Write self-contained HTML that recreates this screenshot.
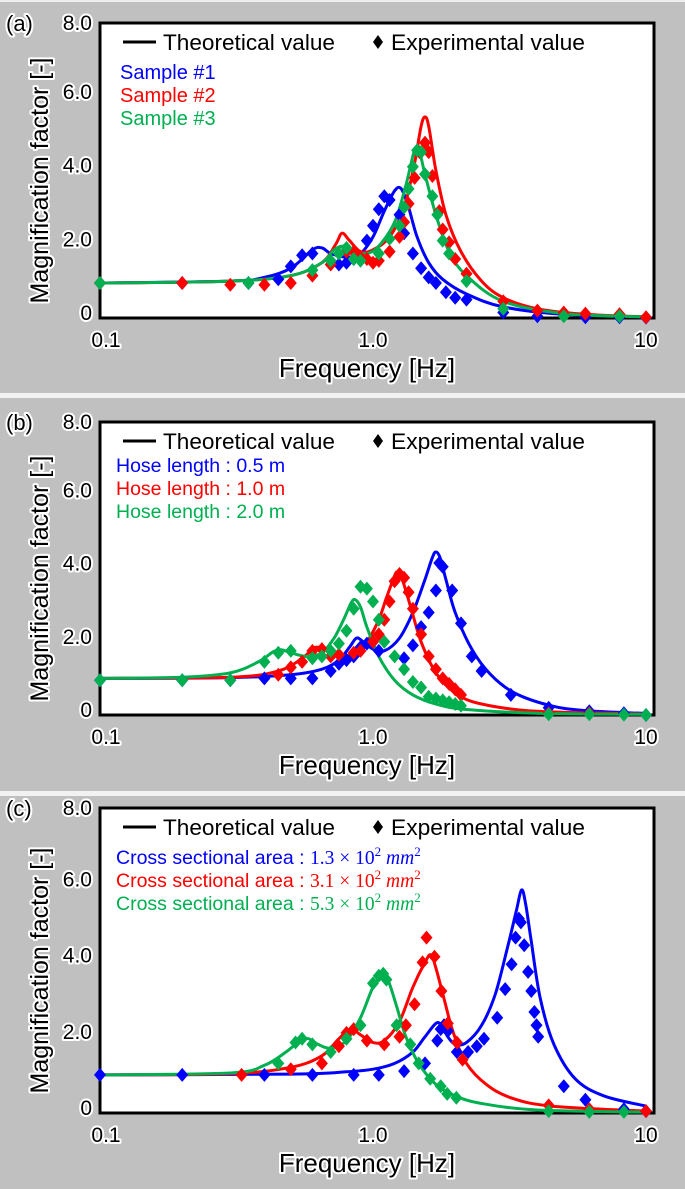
<!DOCTYPE html>
<html><head><meta charset="utf-8">
<style>
body{margin:0;width:685px;height:1189px;background:#c0c0c0;overflow:hidden;font-family:"Liberation Sans",sans-serif}
svg{display:block}
text{font-family:"Liberation Sans",sans-serif}
.halo{paint-order:stroke;stroke:#fff;stroke-width:4px;stroke-linejoin:round}
</style></head>
<body>
<svg id="fig" width="685" height="1189">
<rect x="0" y="0" width="685" height="2" fill="#eee"/>
<rect x="0" y="393" width="685" height="5" fill="#f2f2f2"/>
<rect x="0" y="791" width="685" height="5" fill="#f2f2f2"/>
</svg>
<script>
// ---- Panel (a) data ----
const aBlueTheoF=[0.1,0.3,0.4,0.5,0.6,0.65,0.7,0.8,0.9,1.0,1.1,1.2,1.27,1.35,1.45,1.6,1.8,2.2,3,5,10];
const aBlueTheoV=[0.95,1.0,1.1,1.35,1.85,1.9,1.75,1.65,1.75,2.2,2.9,3.45,3.5,3.0,2.2,1.5,1.05,0.65,0.3,0.1,0.03];
const aRedTheoF=[0.1,0.3,0.5,0.65,0.73,0.77,0.82,0.9,1.0,1.15,1.3,1.42,1.5,1.55,1.6,1.7,1.85,2.1,2.5,3,4,6,10];
const aRedTheoV=[0.95,1.0,1.15,1.5,2.0,2.3,2.1,1.8,1.85,2.2,3.0,4.2,5.2,5.45,5.2,4.0,2.8,1.8,1.0,0.55,0.25,0.1,0.03];
const aGreenTheoF=[0.1,0.3,0.5,0.65,0.72,0.78,0.85,0.95,1.05,1.2,1.32,1.42,1.48,1.55,1.7,1.9,2.2,3,5,10];
const aGreenTheoV=[0.95,1.0,1.15,1.5,1.85,1.95,1.8,1.75,1.95,2.6,3.6,4.55,4.5,3.9,2.8,1.8,1.15,0.45,0.12,0.03];
const aBlueExpF=[0.1,0.2,0.35,0.45,0.5,0.55,0.6,0.75,0.8,0.85,0.95,1.0,1.05,1.1,1.15,1.25,1.3,1.4,1.5,1.6,1.7,1.85,2.0,2.2,3,4,6,8,10];
const aBlueExpV=[0.95,0.95,0.95,1.05,1.4,1.7,1.75,1.45,1.5,1.6,2.1,2.5,2.95,3.3,3.2,2.8,2.3,1.75,1.35,1.1,0.95,0.7,0.55,0.5,0.15,0.05,0.02,0.02,0.01];
const aGreenExpF=[0.1,0.35,0.6,0.7,0.75,0.8,0.85,0.9,1.05,1.15,1.25,1.3,1.35,1.4,1.45,1.5,1.55,1.65,1.72,1.8,1.9,2.2,3,5,8];
const aGreenExpV=[0.95,0.95,1.3,1.55,1.75,1.9,1.6,1.55,1.75,2.15,2.5,3.0,3.5,4.1,4.55,4.5,3.9,3.3,2.8,2.1,1.75,1.0,0.25,0.05,0.05];
const aRedExpF=[0.1,0.2,0.3,0.4,0.5,0.6,0.7,0.8,0.85,0.9,0.95,1.0,1.05,1.15,1.25,1.3,1.35,1.42,1.48,1.55,1.6,1.65,1.75,1.8,1.9,2.0,2.2,3,4,5,6,8,10];
const aRedExpV=[0.95,0.95,0.9,0.9,0.95,1.15,1.45,1.8,1.8,1.65,1.6,1.5,1.55,1.8,2.2,2.6,3.1,3.8,4.5,4.75,4.5,3.85,2.9,2.4,2.05,1.6,1.2,0.45,0.2,0.15,0.12,0.1,0.02];
// ---- Panel (b) data ----
const bBlueTheoF=[0.1,0.3,0.5,0.65,0.75,0.82,0.87,0.92,1.0,1.1,1.25,1.4,1.55,1.65,1.7,1.76,1.85,2.0,2.3,2.7,3.3,4.5,6,10];
const bBlueTheoV=[1.0,1.02,1.1,1.25,1.5,1.85,2.1,2.0,1.8,1.75,2.1,2.8,3.7,4.3,4.45,4.3,3.7,2.8,1.8,1.1,0.6,0.25,0.12,0.04];
const bRedTheoF=[0.1,0.3,0.45,0.55,0.6,0.63,0.68,0.75,0.85,0.95,1.05,1.12,1.2,1.23,1.28,1.38,1.5,1.7,2.0,2.5,4,10];
const bRedTheoV=[1.0,1.03,1.2,1.55,1.8,1.85,1.75,1.6,1.7,2.0,2.6,3.2,3.8,3.9,3.7,2.9,2.0,1.15,0.6,0.3,0.1,0.03];
const bGreenTheoF=[0.1,0.2,0.3,0.38,0.43,0.46,0.5,0.57,0.65,0.72,0.78,0.83,0.86,0.9,0.95,1.05,1.2,1.4,1.7,2.2,4,10];
const bGreenTheoV=[1.0,1.03,1.15,1.45,1.72,1.78,1.7,1.6,1.7,2.1,2.6,3.05,3.15,2.95,2.4,1.6,0.95,0.55,0.3,0.15,0.05,0.02];
const bBlueExpF=[0.1,0.2,0.3,0.4,0.5,0.6,0.7,0.75,0.8,0.85,0.9,0.95,1.0,1.05,1.3,1.4,1.5,1.6,1.7,1.75,1.8,1.95,2.1,2.3,2.5,3.2,4.4,6.2,8.3,10];
const bBlueExpV=[0.95,0.95,0.95,1.0,1.0,1.0,1.2,1.4,1.5,1.6,1.85,1.95,2.0,1.75,1.55,1.9,2.4,2.8,3.4,4.15,4.05,3.4,2.5,1.6,1.2,0.55,0.2,0.1,0.05,0.0];
const bRedExpF=[0.45,0.5,0.55,0.6,0.65,0.7,0.75,0.85,0.9,1.0,1.05,1.1,1.15,1.2,1.25,1.3,1.35,1.4,1.5,1.6,1.7,1.8,1.9,2.0,2.1,4.4,6.2];
const bRedExpV=[1.1,1.3,1.45,1.75,1.8,1.6,1.65,1.7,1.75,2.0,2.2,2.6,3.1,3.65,3.85,3.75,3.35,2.9,2.2,1.6,1.25,1.0,0.85,0.7,0.55,0.05,0.05];
const bGreenExpF=[0.1,0.2,0.3,0.4,0.45,0.5,0.6,0.65,0.7,0.75,0.8,0.85,0.9,0.95,1.0,1.05,1.1,1.2,1.3,1.4,1.5,1.6,1.7,1.8,1.9,2.0,2.1,4.4,6.2,8.3,10];
const bGreenExpV=[0.95,0.95,0.95,1.45,1.7,1.75,1.55,1.6,1.75,1.95,2.3,2.9,3.5,3.45,3.1,2.6,2.0,1.6,1.25,0.9,0.75,0.5,0.45,0.4,0.35,0.3,0.25,0.02,0.02,0.01,0.0];
// ---- Panel (c) data ----
const cBlueTheoF=[0.1,0.5,0.8,1.0,1.2,1.4,1.55,1.7,1.78,1.88,2.0,2.2,2.5,2.8,3.1,3.35,3.5,3.62,3.8,4.1,4.6,5.5,7,10];
const cBlueTheoV=[1.0,1.02,1.08,1.15,1.3,1.6,2.0,2.35,2.3,2.0,1.8,1.85,2.3,3.1,4.3,5.3,5.85,5.5,4.5,3.0,1.8,0.9,0.45,0.18];
const cRedTheoF=[0.1,0.3,0.5,0.65,0.75,0.83,0.9,1.0,1.1,1.25,1.4,1.55,1.63,1.7,1.82,1.97,2.2,2.6,3.2,4.5,10];
const cRedTheoV=[1.0,1.03,1.2,1.5,1.95,2.2,2.05,1.85,1.9,2.4,3.3,3.95,4.15,3.8,3.0,2.1,1.3,0.75,0.4,0.18,0.05];
const cGreenTheoF=[0.1,0.3,0.4,0.48,0.54,0.58,0.63,0.7,0.8,0.9,1.0,1.08,1.14,1.22,1.32,1.47,1.7,2.0,2.5,4,10];
const cGreenTheoV=[1.0,1.05,1.25,1.6,1.9,1.95,1.8,1.7,1.9,2.5,3.3,3.6,3.45,2.8,2.0,1.3,0.75,0.45,0.25,0.08,0.02];
const cGreenExpF=[0.45,0.52,0.55,0.6,0.7,0.8,0.9,1.0,1.05,1.09,1.12,1.22,1.37,1.47,1.62,1.77,1.87,2.02,4.4,6.2,8.3];
const cGreenExpV=[1.3,1.85,1.95,1.8,1.6,1.95,2.3,3.4,3.6,3.65,3.5,2.3,1.8,1.3,0.9,0.7,0.5,0.4,0.05,0.03,0.03];
const cRedExpF=[0.33,0.5,0.65,0.75,0.8,0.85,0.95,1.1,1.25,1.32,1.42,1.52,1.57,1.68,1.78,1.88,2.03,2.13,4.4,6.2,10];
const cRedExpV=[1.0,1.15,1.3,1.75,2.1,2.2,1.9,1.8,2.0,2.3,2.85,3.95,4.6,4.1,3.2,2.35,1.85,1.4,0.2,0.1,0.05];
const cBlueExpF=[0.1,0.2,0.4,0.6,0.85,1.05,1.3,1.55,1.72,1.77,1.82,1.88,2.03,2.23,2.4,2.55,2.85,3.05,3.22,3.33,3.42,3.48,3.58,3.7,3.8,3.9,3.97,4.03,5.0,6.0,8.3,10];
const cBlueExpV=[1.0,1.0,1.0,1.0,1.0,1.0,1.1,1.3,1.9,2.2,2.3,2.15,1.6,1.6,1.75,1.95,2.5,3.25,3.9,4.6,5.1,5.0,4.4,3.7,3.2,2.65,2.3,2.0,0.7,0.35,0.1,0.05];
const yTicks=[0,2,4,6,8];
const yTickLabels=["0","2.0","4.0","6.0","8.0"];
const xTicks=[0.1,1,10];
const xTickLabels=["0.1","1.0","10"];

const NS="http://www.w3.org/2000/svg";
const svg=document.getElementById('fig');
const C={b:"#0000ff",r:"#ff0000",g:"#00b050"};
function mk(tag,attrs,parent){const e=document.createElementNS(NS,tag);for(const k in attrs)e.setAttribute(k,attrs[k]);(parent||svg).appendChild(e);return e;}
function smoothPath(pts){
  let d="M"+pts[0][0].toFixed(1)+","+pts[0][1].toFixed(1);
  for(let i=0;i<pts.length-1;i++){
    const p0=pts[Math.max(0,i-1)],p1=pts[i],p2=pts[i+1],p3=pts[Math.min(pts.length-1,i+2)];
    const c1x=p1[0]+(p2[0]-p0[0])/6,c1y=p1[1]+(p2[1]-p0[1])/6;
    const c2x=p2[0]-(p3[0]-p1[0])/6,c2y=p2[1]-(p3[1]-p1[1])/6;
    d+=" C"+c1x.toFixed(1)+","+c1y.toFixed(1)+" "+c2x.toFixed(1)+","+c2y.toFixed(1)+" "+p2[0].toFixed(1)+","+p2[1].toFixed(1);
  }
  return d;
}
function panel(opt){
  const L=100,R=654,T=opt.top,B=opt.bot;
  const dec=273;
  const xs=f=>L+(Math.log10(f)+1)*dec;
  const ys=v=>B-v/8*(B-T);
  const g=mk('g',{});
  
  
  const box=mk('rect',{x:L,y:T,width:R-L,height:B-T,fill:"#fff",stroke:"#000","stroke-width":3},g);
  
  
  const pl=mk('text',{x:6,y:T+8,"font-size":22,fill:"#000",class:"halo"},g);
  pl.textContent=opt.label;
  
  
  yTicks.forEach((v,i)=>{
    const t=mk('text',{x:92,y:(v===8?ys(v)+7:ys(v)+2),"font-size":21,"text-anchor":"end",fill:"#000",class:"halo"},g);
    t.textContent=yTickLabels[i];
    
    
  });
  xTicks.forEach((f,i)=>{
    const t=mk('text',{x:xs(f)+(i===0?6:0),y:B+29,"font-size":21,"text-anchor":"middle",fill:"#000",class:"halo"},g);
    t.textContent=xTickLabels[i];
    
    
  });
  const xt=mk('text',{x:367,y:B+59,"font-size":26,"text-anchor":"middle",fill:"#000",class:"halo"},g);
  xt.textContent="Frequency [Hz]";
  
  
  const cy=(T+B)/2+10;
  const yt=mk('text',{x:0,y:0,"font-size":25,"text-anchor":"middle",fill:"#000",class:"halo",transform:`translate(48,${cy}) rotate(-90)`},g);
  yt.textContent="Magnification factor [-]";
  
  
  const lg=mk('g',{},g);
  
  
  const ly=T+27;
  mk('line',{x1:123,y1:ly-8,x2:156,y2:ly-8,stroke:"#000","stroke-width":3},lg);
  const lt1=mk('text',{x:163,y:ly,"font-size":22,fill:"#000","textLength":172,"lengthAdjust":"spacingAndGlyphs"},lg);
  lt1.textContent="Theoretical value";
  
  
  mk('path',{d:`M378,${ly-15} l5,7 l-5,7 l-5,-7z`,fill:"#000"},lg);
  const lt2=mk('text',{x:391,y:ly,"font-size":22,fill:"#000","textLength":194,"lengthAdjust":"spacingAndGlyphs"},lg);
  lt2.textContent="Experimental value";
  
  
  opt.series.forEach((s,i)=>{
    const t=mk('text',{x:opt.lx,y:T+opt.ly0+i*23,"font-size":opt.fs,fill:C[s.c]},lg);
    t.innerHTML=s.label;
    
    
  });
  opt.series.forEach((s,i)=>{
    const pts=s.tf.map((f,k)=>[xs(f),ys(s.tv[k])]);
    const p=mk('path',{d:smoothPath(pts),fill:"none",stroke:C[s.c],"stroke-width":3},g);
    
    
  });
  opt.series.forEach((s,i)=>{
    s.ef.forEach((f,k)=>{
      const x=xs(f),y=ys(s.ev[k]);
      const d=mk('path',{d:`M${x.toFixed(1)},${(y-7).toFixed(1)} l6,7 l-6,7 l-6,-7z`,fill:C[s.c]},g);
      
      
    });
  });
}
panel({name:'panel-a',label:'(a)',top:23,bot:318,lx:120,ly0:56,fs:20,series:[
 {c:'b',label:'Sample #1',tf:aBlueTheoF,tv:aBlueTheoV,ef:aBlueExpF,ev:aBlueExpV},
 {c:'r',label:'Sample #2',tf:aRedTheoF,tv:aRedTheoV,ef:aRedExpF,ev:aRedExpV},
 {c:'g',label:'Sample #3',tf:aGreenTheoF,tv:aGreenTheoV,ef:aGreenExpF,ev:aGreenExpV}]});
panel({name:'panel-b',label:'(b)',top:422,bot:715,lx:116,ly0:50,fs:19.5,series:[
 {c:'b',label:'Hose length : 0.5 m',tf:bBlueTheoF,tv:bBlueTheoV,ef:bBlueExpF,ev:bBlueExpV},
 {c:'r',label:'Hose length : 1.0 m',tf:bRedTheoF,tv:bRedTheoV,ef:bRedExpF,ev:bRedExpV},
 {c:'g',label:'Hose length : 2.0 m',tf:bGreenTheoF,tv:bGreenTheoV,ef:bGreenExpF,ev:bGreenExpV}]});
const area=(n)=>`Cross sectional area : <tspan font-family="Liberation Serif">${n} × 10<tspan dy="-8" font-size="13">2</tspan><tspan dy="8" font-style="italic"> mm</tspan><tspan dy="-8" font-size="13">2</tspan></tspan>`;
panel({name:'panel-c',label:'(c)',top:808,bot:1113,lx:116,ly0:56,fs:19.5,series:[
 {c:'b',label:area('1.3'),tf:cBlueTheoF,tv:cBlueTheoV,ef:cBlueExpF,ev:cBlueExpV},
 {c:'r',label:area('3.1'),tf:cRedTheoF,tv:cRedTheoV,ef:cRedExpF,ev:cRedExpV},
 {c:'g',label:area('5.3'),tf:cGreenTheoF,tv:cGreenTheoV,ef:cGreenExpF,ev:cGreenExpV}]});
</script>
</body></html>
